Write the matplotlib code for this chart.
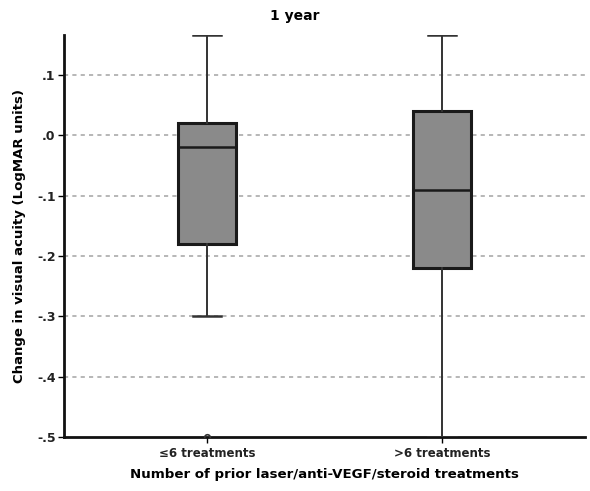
import matplotlib
matplotlib.use("Agg")
import matplotlib.pyplot as plt

# box plot summary per treatment group (LogMAR change at 1 year)
groups = ["\u22646 treatments", ">6 treatments"]
q1 = [-0.18, -0.22]
medians = [-0.02, -0.09]
q3 = [0.02, 0.04]
whislo = [-0.30, -0.50]
whishi = [0.166, 0.166]
fliers = [[-0.50], []]

yticks = [0.1, 0.0, -0.1, -0.2, -0.3, -0.4, -0.5]
ytick_labels = [".1", ".0", "-.1", "-.2", "-.3", "-.4", "-.5"]


def main():
    fig = plt.figure(figsize=(5.9, 4.91), dpi=100)
    ax = fig.add_axes([0.1085, 0.110, 0.883, 0.8187])

    stats = []
    for i, name in enumerate(groups):
        stats.append(dict(label=name, q1=q1[i], med=medians[i], q3=q3[i],
                          whislo=whislo[i], whishi=whishi[i], fliers=fliers[i]))

    ax.bxp(stats, positions=[0, 1], widths=0.247, patch_artist=True,
           boxprops=dict(facecolor="#8a8a8a", edgecolor="#1a1a1a", linewidth=2.2),
           medianprops=dict(color="#1a1a1a", linewidth=1.8),
           whiskerprops=dict(color="#333333", linewidth=1.4),
           capprops=dict(color="#333333", linewidth=1.8),
           capwidths=0.12,
           flierprops=dict(marker="o", markersize=4, markerfacecolor="none",
                           markeredgecolor="#333333", markeredgewidth=1.2),
           zorder=3)

    ax.set_xlim(-0.61, 1.61)
    ax.set_ylim(-0.5, 0.166)
    ax.set_yticks(yticks)
    ax.set_yticklabels(ytick_labels, fontweight="bold", fontsize=9, color="#222222")
    ax.set_xticks([0, 1])
    ax.set_xticklabels(groups, fontweight="bold", fontsize=8.5, color="#222222")

    for y in yticks[:-1]:
        ax.axhline(y, color="#aaaaaa", linestyle=(0, (2.5, 2.5)), linewidth=1.2, zorder=1)

    for side in ["top", "right"]:
        ax.spines[side].set_visible(False)
    for side in ["left", "bottom"]:
        ax.spines[side].set_linewidth(2)
        ax.spines[side].set_color("#111111")
    ax.tick_params(axis="y", length=4, width=1, pad=2)
    ax.tick_params(axis="x", length=4, width=1, pad=3)

    ax.set_xlabel("Number of prior laser/anti-VEGF/steroid treatments",
                  fontweight="bold", fontsize=9.6, labelpad=6)
    ax.set_ylabel("Change in visual acuity (LogMAR units)",
                  fontweight="bold", fontsize=9.5, labelpad=8)
    fig.text(0.5, 0.968, "1 year", ha="center", va="center",
             fontweight="bold", fontsize=10)

    fig.savefig("out.png", dpi=100)


if __name__ == "__main__":
    main()
